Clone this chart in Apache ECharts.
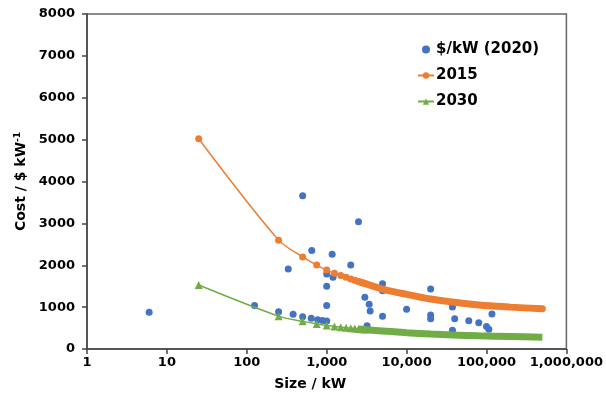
<!DOCTYPE html>
<html>
<head>
<meta charset="utf-8">
<script src="https://cdn.jsdelivr.net/npm/echarts@6/dist/echarts.min.js"></script>
<style>
html,body{margin:0;padding:0;background:#fff;}
#chart{width:606px;height:401px;}
</style>
</head>
<body>
<div id="chart"></div>
<script>
// ---- data ----
const size2020 = [6, 125, 250, 330, 380, 500, 500, 650, 640, 770, 885, 1000, 1000, 1000, 1000, 1170, 1200, 2000, 2500, 3000, 3400, 3500, 3200, 5000, 5000, 5000, 10000, 20000, 20000, 20000, 37500, 40000, 37500, 60000, 80000, 100000, 107000, 117000];
const cost2020 = [880, 1040, 890, 1910, 830, 3660, 770, 2350, 735, 700, 680, 1790, 1500, 1040, 668, 2260, 1715, 2005, 3040, 1234, 1070, 910, 556, 1560, 1390, 785, 950, 1432, 812, 720, 1005, 720, 450, 676, 625, 540, 470, 835];

const size2015 = [25, 250, 500, 750, 1000, 1250, 1500, 1750, 2000, 2250, 2500, 2750, 3000];
const cost2015 = [5020, 2600, 2200, 2005, 1885, 1810, 1755, 1712, 1672, 1640, 1612, 1585, 1562];
const bandSize2015 = [2500, 2785, 5000, 10000, 20000, 37500, 80000, 200000, 500000];
const bandCost2015 = [1612, 1583, 1432, 1305, 1193, 1122, 1050, 1000, 960];

const size2030 = [25, 250, 500, 750, 1000, 1250, 1500, 1750, 2000, 2250, 2500, 2750, 3000];
const cost2030 = [1530, 785, 660, 600, 560, 540, 522, 510, 498, 490, 480, 472, 465];
const bandSize2030 = [2500, 5000, 10000, 20000, 37500, 80000, 200000, 500000];
const bandCost2030 = [480, 428, 390, 357, 335, 314, 298, 283];

const xTicks = [1, 10, 100, 1000, 10000, 100000, 1000000];
const yMin = 0, yMax = 8000, yStep = 1000;

const seriesNames = ['$/kW (2020)', '2015', '2030'];
const BLUE = '#4472C4', ORANGE = '#ED7D31', GREEN = '#70AD47';
const FONT = 'DejaVu Sans';

function pairs(xs, ys) { return xs.map((x, i) => [x, ys[i]]); }

const chart = echarts.init(document.getElementById('chart'), null, {renderer: 'canvas'});
chart.setOption({
  animation: false,
  backgroundColor: '#fff',
  grid: {left: 87, right: 38, top: 14, bottom: 52, show: true, borderColor: '#666', borderWidth: 1.5, backgroundColor: 'transparent'},
  legend: {
    data: seriesNames,
    orient: 'vertical',
    left: 412, top: 37,
    itemWidth: 16, itemHeight: 8, itemGap: 11,
    textStyle: {fontFamily: FONT, fontWeight: 'bold', fontSize: 15, color: '#000', padding: [0,0,0,-3]}
  },
  xAxis: {
    type: 'log', logBase: 10, min: xTicks[0], max: xTicks[xTicks.length-1],
    name: 'Size / kW', nameLocation: 'middle', nameGap: 28,
    nameTextStyle: {fontFamily: FONT, fontWeight: 'bold', fontSize: 14, color: '#000', padding: [0, 33, 0, 0]},
    axisLine: {show: true, lineStyle: {color: '#444', width: 1.5}},
    axisTick: {show: true, inside: false, length: 5, lineStyle: {color: '#444', width: 1.5}},
    minorTick: {show: false},
    splitLine: {show: false},
    axisLabel: {fontFamily: FONT, fontWeight: 'bold', fontSize: 13, color: '#000', margin: 7,
      formatter: v => Math.round(v).toLocaleString('en-US')}
  },
  yAxis: {
    type: 'value', min: yMin, max: yMax, interval: yStep,
    name: 'Cost / $ kW{sup|-1}', nameLocation: 'middle', nameGap: 50,
    nameTextStyle: {fontFamily: FONT, fontWeight: 'bold', fontSize: 14, color: '#000',
      rich: {sup: {fontFamily: FONT, fontWeight: 'bold', fontSize: 9, verticalAlign: 'top', color: '#000', padding: [0,0,6,0]}}},
    axisLine: {show: true, lineStyle: {color: '#444', width: 1.5}},
    axisTick: {show: true, inside: false, length: 5, lineStyle: {color: '#444', width: 1.5}},
    splitLine: {show: false},
    axisLabel: {fontFamily: FONT, fontWeight: 'bold', fontSize: 13, color: '#000', margin: 12,
      formatter: v => String(v)}
  },
  series: [
    {
      name: seriesNames[0], type: 'scatter', data: pairs(size2020, cost2020),
      symbol: 'circle', symbolSize: 7, itemStyle: {color: BLUE, opacity: 1}
    },
    {
      name: seriesNames[1], type: 'line', data: pairs(size2015, cost2015), smooth: 0.3,
      symbol: 'circle', symbolSize: 7, showSymbol: true,
      lineStyle: {color: ORANGE, width: 1.5}, itemStyle: {color: ORANGE, borderWidth: 0}
    },
    {
      name: seriesNames[1], type: 'line', data: pairs(bandSize2015, bandCost2015), smooth: 0.3,
      symbol: 'none', lineStyle: {color: ORANGE, width: 7, cap: 'round'}, itemStyle: {color: ORANGE}
    },
    {
      name: seriesNames[2], type: 'line', data: pairs(size2030, cost2030), smooth: 0.3,
      symbol: 'triangle', symbolSize: 8, showSymbol: true,
      lineStyle: {color: GREEN, width: 1.5}, itemStyle: {color: GREEN, borderWidth: 0}
    },
    {
      name: seriesNames[2], type: 'line', data: pairs(bandSize2030, bandCost2030), smooth: 0.3,
      symbol: 'none', lineStyle: {color: GREEN, width: 7, cap: 'butt'}, itemStyle: {color: GREEN}
    }
  ]
});
</script>
</body>
</html>
